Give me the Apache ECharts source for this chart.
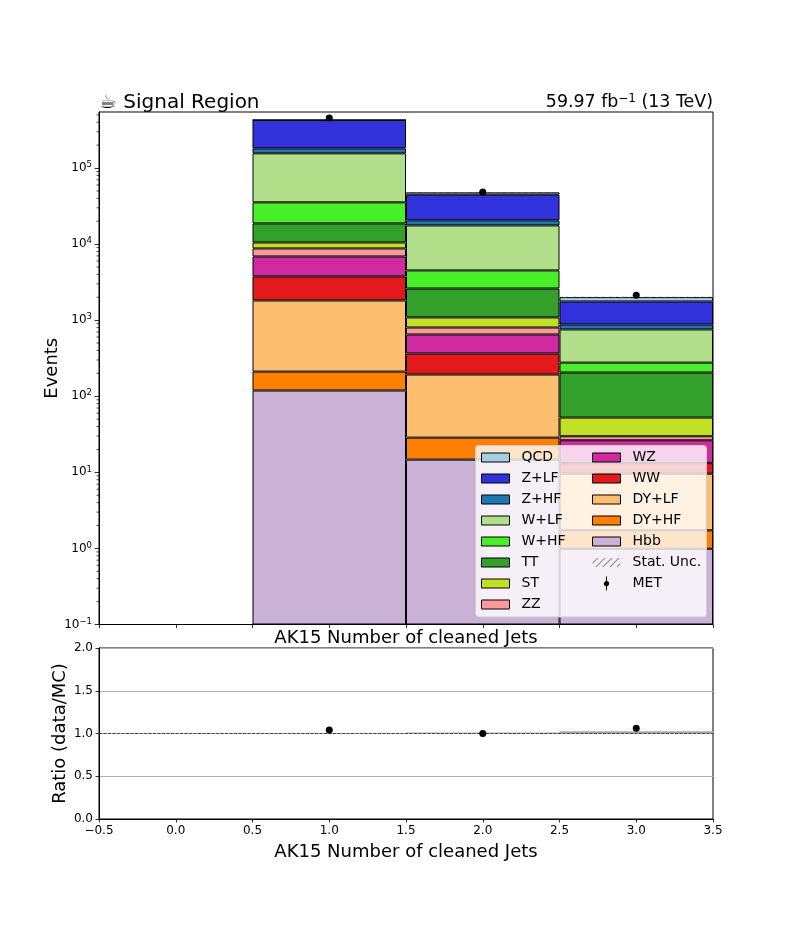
<!DOCTYPE html>
<html><head><meta charset="utf-8">
<style>html,body{margin:0;padding:0;background:#fff}#c{width:792px;height:936px}</style>
<script src="https://cdn.jsdelivr.net/npm/echarts@6/dist/echarts.min.js"></script>
</head><body><div id="c"></div>
<script>
const bins = ['0','1','2','3'];
const Hbb  = [null,119,14.7,0.99];
const DYHF = [null,92,13.9,0.74];
const DYLF = [null,1604,164.4,7.87];
const WW   = [null,1945,172,3.6];
const WZ   = [null,3120,284,13.2];
const ZZ   = [null,1890,152,3.4];
const ST   = [null,1730,286,22.7];
const TT   = [null,8200,1523,152.5];
const WHF  = [null,16700,1900,72];
const WLF  = [null,120600,13090,478];
const ZHF  = [null,25000,2900,122];
const ZLF  = [null,247000,24100,885];
const QCD  = [null,0,3300,248];
const uncBase = [null,427500,47800,1985];
const uncSize = [null,1500,200,65];
const metX = [1,2,3];
const metY = [455000,48300,2130];
const ratioY = [1.04,1.0,1.06];
const ratioBandBase = [null,1,1,1];
const ratioBandSize = [null,0.002,0.011,0.027];
const decades = [0.1,1,10,100,1000,10000,100000];
const minorTicks = [];
[-1,0,1,2,3,4,5].forEach(e=>[2,3,4,5,6,7,8,9].forEach(m=>{const v=m*Math.pow(10,e); if(v<5.4e5) minorTicks.push(v);}));

const stackOrder = [['Hbb',Hbb,'#cab2d6'],['DY+HF',DYHF,'#ff7f00'],['DY+LF',DYLF,'#fdbf6f'],['WW',WW,'#e31a1c'],['WZ',WZ,'#d12aa0'],['ZZ',ZZ,'#fb9a99'],['ST',ST,'#c2e026'],['TT',TT,'#33a02c'],['W+HF',WHF,'#48ee27'],['W+LF',WLF,'#b2df8a'],['Z+HF',ZHF,'#1f78b4'],['Z+LF',ZLF,'#3232dc'],['QCD',QCD,'#a6cee3']];
const legendCol1 = ['QCD','Z+LF','Z+HF','W+LF','W+HF','TT','ST','ZZ'];
const legendCol2 = ['WZ','WW','DY+LF','DY+HF','Hbb','Stat. Unc.','MET'];
const F='DejaVu Sans';
const hatch={symbol:'rect',dashArrayX:[1,0],dashArrayY:[1,3.4],rotation:-Math.PI/4,color:'#8c8c8c'};
const boxIcon='path://M0 0H28V9H0Z';
const metIcon='path://M2 0H3V4.6A2.6 2.6 0 1 1 2 4.6ZM2 9.4H3V14H2Z';
const legendItem=n=>{
  const w=(n==='MET'||n==='Stat. Unc.')?{}:{itemStyle:{borderColor:'#000',borderWidth:1}};
  return Object.assign({name:n,icon:n==='MET'?metIcon:boxIcon},w);
};
const series=stackOrder.map(([name,data,color])=>({
  name,type:'bar',xAxisIndex:0,yAxisIndex:0,stack:'mc',data,barWidth:'100%',barGap:'-100%',barCategoryGap:0,
  itemStyle:{color,borderColor:'#000',borderWidth:1},emphasis:{disabled:true},silent:true,z:2,animation:false
}));
series.push({name:'uncBase',type:'bar',xAxisIndex:0,yAxisIndex:0,stack:'unc',data:uncBase,barWidth:'100%',barGap:'-100%',itemStyle:{color:'transparent',borderWidth:0},silent:true,z:3});
series.push({name:'Stat. Unc.',type:'bar',xAxisIndex:0,yAxisIndex:0,stack:'unc',data:uncSize,barWidth:'100%',barGap:'-100%',itemStyle:{color:'transparent',borderWidth:0,decal:hatch},silent:true,z:3});
series.push({name:'MET',type:'scatter',xAxisIndex:1,yAxisIndex:0,data:metX.map((x,i)=>[x,metY[i]]),symbol:'circle',symbolSize:7,itemStyle:{color:'#000',opacity:1},silent:true,z:5,clip:false});
series.push({name:'minor',type:'custom',xAxisIndex:1,yAxisIndex:0,clip:false,silent:true,z:1,data:minorTicks.map(v=>[-0.5,v]),
  renderItem:(p,api)=>{const c=api.coord([api.value(0),api.value(1)]);return {type:'line',shape:{x1:c[0]-2.5,y1:c[1],x2:c[0],y2:c[1]},style:{stroke:'#000',lineWidth:0.7}};}});
series.push({name:'rBase',type:'bar',xAxisIndex:2,yAxisIndex:1,stack:'r',data:ratioBandBase,barWidth:'100%',barGap:'-100%',itemStyle:{color:'transparent',borderWidth:0},silent:true,z:2});
series.push({name:'rBand',type:'bar',xAxisIndex:2,yAxisIndex:1,stack:'r',data:ratioBandSize,barWidth:'100%',barGap:'-100%',itemStyle:{color:'#a9a9a9',borderWidth:0},silent:true,z:2});
series.push({name:'unity',type:'line',xAxisIndex:3,yAxisIndex:1,data:[[-0.5,1],[3.5,1]],symbol:'none',lineStyle:{color:'#444',width:1,type:[3,1.5]},silent:true,z:3});
series.push({name:'ratio',type:'scatter',xAxisIndex:3,yAxisIndex:1,data:metX.map((x,i)=>[x,ratioY[i]]),symbol:'circle',symbolSize:7,itemStyle:{color:'#000',opacity:1},silent:true,z:5});

const tickX=(g,show,name)=>({type:'value',gridIndex:g,min:-0.5,max:3.5,interval:0.5,position:'bottom',
  axisLine:{show:true,onZero:false,lineStyle:{color:'#000',width:1}},axisTick:{show:true,length:3.5,lineStyle:{color:'#000',width:0.8}},splitLine:{show:false},
  axisLabel:{show,color:'#000',fontFamily:F,fontSize:12,margin:6,formatter:v=>v.toFixed(1).replace('-','\u2212')},
  name,nameLocation:'middle',nameGap:show?24:5,nameTextStyle:{color:'#000',fontFamily:F,fontSize:18}});
const catX=g=>({type:'category',gridIndex:g,data:bins,position:'bottom',axisLine:{show:false,onZero:false},axisTick:{show:false},axisLabel:{show:false},splitLine:{show:false}});
const legendBlock=(names,left)=>({data:names.map(legendItem),orient:'vertical',left,top:445.5,itemWidth:28,itemHeight:14,itemGap:7,symbolKeepAspect:true,
    padding:[5,0,0,5.5],selectedMode:false,
    textStyle:{fontFamily:F,fontSize:14,color:'#000',padding:[0,0,0,7]},z:10});

const option={
  animation:false,backgroundColor:'#fff',
  title:[
    {text:'\u2615 Signal Region',left:99,top:93,padding:0,textStyle:{fontFamily:F,fontSize:20,fontWeight:'normal',color:'#000'}},
    {text:'{a|59.97 fb}{s|\u22121}{a| (13 TeV)}',right:79,top:93,padding:0,textStyle:{fontWeight:'normal',rich:{a:{fontFamily:F,fontSize:17.4,fontWeight:'normal',color:'#000'},s:{fontFamily:F,fontSize:12,fontWeight:'normal',color:'#000',verticalAlign:'top',padding:[0,0,7,0]}}}}
  ],
  grid:[
    {left:99,right:79,top:112,height:512.5,show:true,borderColor:'#000',borderWidth:1,backgroundColor:'#fff',containLabel:false},
    {left:99,right:79,top:648,height:171,show:true,borderColor:'#000',borderWidth:1,backgroundColor:'#fff',containLabel:false}
  ],
  xAxis:[catX(0),tickX(0,false,'AK15 Number of cleaned Jets'),catX(1),tickX(1,true,'AK15 Number of cleaned Jets')],
  yAxis:[
    {type:'log',logBase:10,gridIndex:0,min:0.1,max:545000,startValue:0.1,
     axisLine:{show:true,onZero:false,lineStyle:{color:'#000',width:1}},axisTick:{show:true,length:4.5,customValues:decades,lineStyle:{color:'#000',width:0.8}},splitLine:{show:false},minorTick:{show:false},
     axisLabel:{color:'#000',margin:7,customValues:decades,formatter:v=>{const l=Math.log10(v),e=Math.round(l);if(Math.abs(l-e)>1e-6)return '';return '{a|10}{s|'+String(e).replace('-','\u2212')+'}';},
       rich:{a:{fontFamily:F,fontSize:12,color:'#000'},s:{fontFamily:F,fontSize:8.5,color:'#000',verticalAlign:'top',padding:[0,0,6,0]}}},
     name:'Events',nameLocation:'middle',nameGap:38,nameMoveOverlap:false,nameTextStyle:{color:'#000',fontFamily:F,fontSize:18}},
    {type:'value',gridIndex:1,min:0,max:2,interval:0.5,
     axisLine:{show:true,onZero:false,lineStyle:{color:'#000',width:1}},axisTick:{show:true,length:3.5,lineStyle:{color:'#000',width:0.8}},
     splitLine:{show:true,lineStyle:{color:'#b0b0b0',width:1}},
     axisLabel:{color:'#000',fontFamily:F,fontSize:12,margin:6,formatter:v=>v.toFixed(1)},
     name:'Ratio (data/MC)',nameLocation:'middle',nameGap:30,nameMoveOverlap:false,nameTextStyle:{color:'#000',fontFamily:F,fontSize:18}}
  ],
  legend:[legendBlock(legendCol1,475.5),legendBlock(legendCol2,586.5)],
  graphic:[{type:'rect',z:9,silent:true,shape:{x:475.5,y:445.5,width:231,height:171.5,r:3},style:{fill:'rgba(255,255,255,0.8)',stroke:'#ccc',lineWidth:1}}],
  series
};
const ch=echarts.init(document.getElementById('c'),null,{renderer:'canvas',width:792,height:936});
ch.setOption(option);
</script></body></html>
